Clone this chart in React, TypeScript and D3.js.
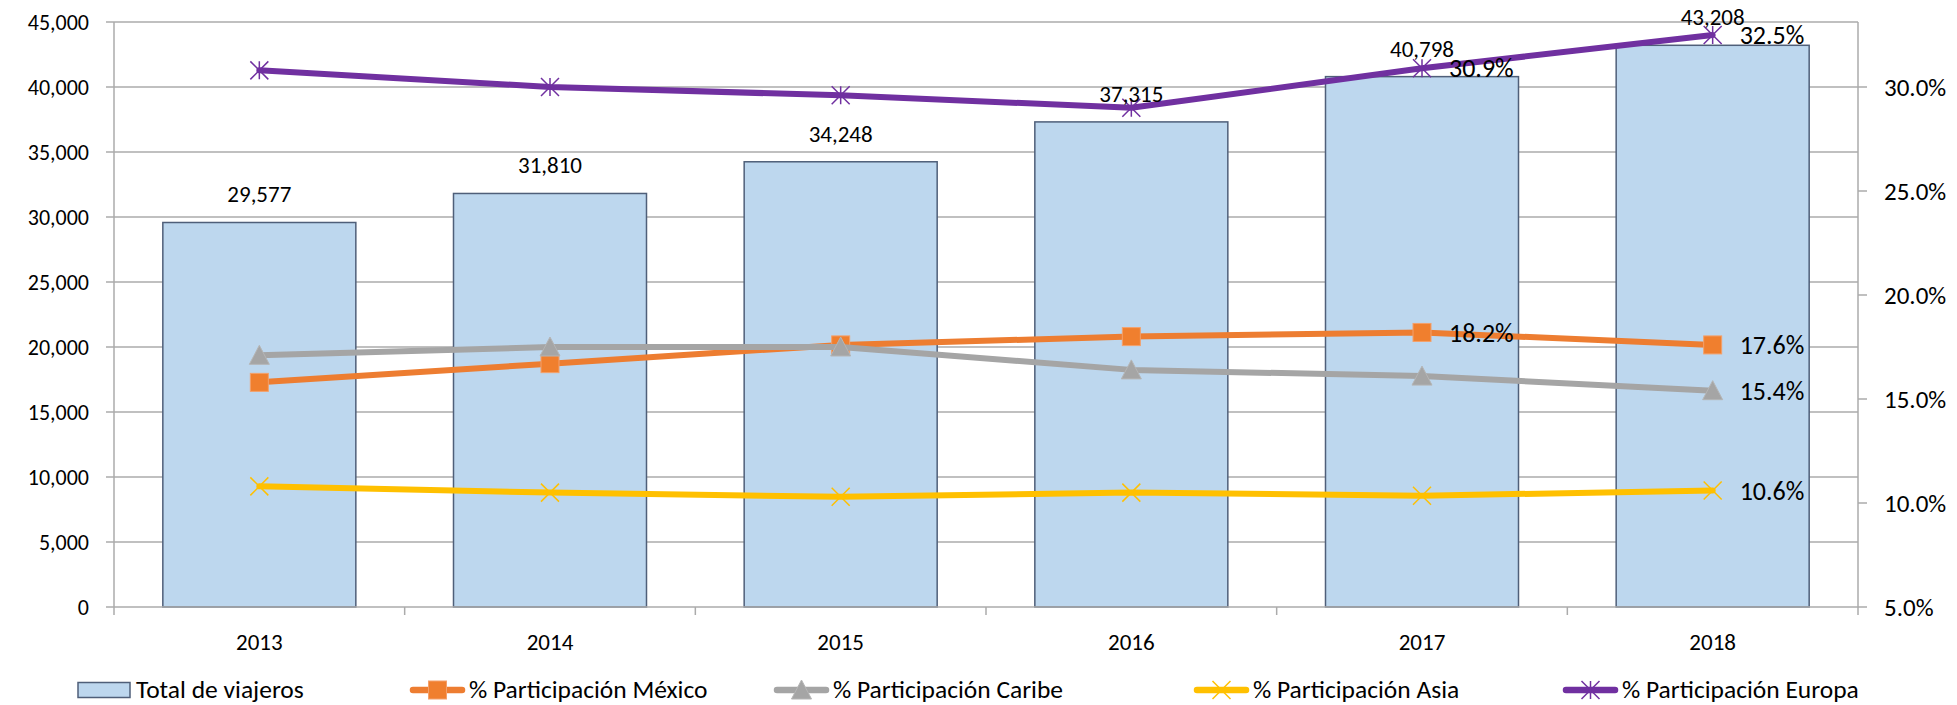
import { useEffect, useRef } from "react";
import * as d3 from "d3";

const years = ["2013", "2014", "2015", "2016", "2017", "2018"];
const totalViajeros = [29577, 31810, 34248, 37315, 40798, 43208];
const pctMexico = [15.8, 16.7, 17.6, 18.0, 18.2, 17.6];
const pctCaribe = [17.1, 17.5, 17.5, 16.4, 16.1, 15.4];
const pctAsia = [10.8, 10.5, 10.3, 10.5, 10.35, 10.6];
const pctEuropa = [30.8, 30.0, 29.6, 29.0, 30.9, 32.5];
const leftTicks = [0, 5000, 10000, 15000, 20000, 25000, 30000, 35000, 40000, 45000];
const rightTicks = [5, 10, 15, 20, 25, 30];

const series = [
  { name: "% Participación México", values: pctMexico, color: "#ED7D31", marker: "square", labelAt: [4, 5] },
  { name: "% Participación Caribe", values: pctCaribe, color: "#A5A5A5", marker: "triangle", labelAt: [5] },
  { name: "% Participación Asia", values: pctAsia, color: "#FFC000", marker: "x", labelAt: [5] },
  { name: "% Participación Europa", values: pctEuropa, color: "#7030A0", marker: "star", labelAt: [4, 5] },
];

const FONT = "Carlito, Calibri, Lato, sans-serif";
const W = 1957;
const H = 705;
const left = 114;
const right = 1858;
const top = 22;
const bottom = 607;

const drawMarker = (g, type, color, cx, cy) => {
  const s = 9;
  if (type === "square") {
    g.append("rect")
      .attr("x", cx - s).attr("y", cy - s)
      .attr("width", 2 * s).attr("height", 2 * s)
      .attr("fill", "#F07F2E").attr("stroke", "#F4A06A").attr("stroke-width", 1);
  } else if (type === "triangle") {
    g.append("path")
      .attr("d", `M${cx},${cy - s - 1}L${cx + s + 1},${cy + s}L${cx - s - 1},${cy + s}Z`)
      .attr("fill", color).attr("stroke", "#B5B5B5").attr("stroke-width", 1);
  } else if (type === "x") {
    g.append("path")
      .attr("d", `M${cx - s},${cy - s}L${cx + s},${cy + s}M${cx - s},${cy + s}L${cx + s},${cy - s}`)
      .attr("stroke", color).attr("stroke-width", 1.5);
  } else {
    g.append("path")
      .attr("d", `M${cx - s},${cy - s}L${cx + s},${cy + s}M${cx - s},${cy + s}L${cx + s},${cy - s}M${cx},${cy - s}L${cx},${cy + s}`)
      .attr("stroke", color).attr("stroke-width", 1.5);
  }
};

export default function App() {
  const svgRef = useRef(null);

  useEffect(() => {
    const svg = d3.select(svgRef.current);
    svg.selectAll("*").remove();

    const x = d3.scaleBand().domain(years).range([left, right]).padding(0);
    const yL = d3.scaleLinear().domain([0, 45000]).range([bottom, top]);
    const yR = d3.scaleLinear().domain([5, 33.125]).range([bottom, top]);
    const barW = x.bandwidth() * 0.664;
    const cx = (d) => x(d) + x.bandwidth() / 2;

    // gridlines
    svg.append("g")
      .selectAll("line")
      .data(leftTicks.slice(1))
      .enter()
      .append("line")
      .attr("x1", left).attr("x2", right)
      .attr("y1", (d) => yL(d)).attr("y2", (d) => yL(d))
      .attr("stroke", "#ABABAB").attr("stroke-width", 1.5);

    // bars
    svg.append("g")
      .selectAll("rect")
      .data(totalViajeros)
      .enter()
      .append("rect")
      .attr("x", (d, i) => cx(years[i]) - barW / 2)
      .attr("y", (d) => yL(d))
      .attr("width", barW)
      .attr("height", (d) => bottom - yL(d))
      .attr("fill", "#BDD7EE")
      .attr("stroke", "#4F5F79")
      .attr("stroke-width", 1.5);

    // axes lines
    const axisColor = "#ABABAB";
    svg.append("line").attr("x1", left).attr("x2", left).attr("y1", top).attr("y2", bottom + 8).attr("stroke", axisColor).attr("stroke-width", 1.5);
    svg.append("line").attr("x1", right).attr("x2", right).attr("y1", top).attr("y2", bottom + 8).attr("stroke", axisColor).attr("stroke-width", 1.5);
    svg.append("line").attr("x1", left).attr("x2", right).attr("y1", bottom).attr("y2", bottom).attr("stroke", axisColor).attr("stroke-width", 1.5);

    // x boundary ticks
    svg.append("g")
      .selectAll("line")
      .data(years.slice(1))
      .enter()
      .append("line")
      .attr("x1", (d) => x(d)).attr("x2", (d) => x(d))
      .attr("y1", bottom).attr("y2", bottom + 8)
      .attr("stroke", axisColor).attr("stroke-width", 1.5);

    // left ticks + labels
    const lt = svg.append("g");
    leftTicks.forEach((t) => {
      lt.append("line").attr("x1", left - 8).attr("x2", left).attr("y1", yL(t)).attr("y2", yL(t)).attr("stroke", axisColor).attr("stroke-width", 1.5);
      lt.append("text")
        .attr("x", 89).attr("y", yL(t)).attr("dy", "0.35em")
        .attr("text-anchor", "end")
        .attr("font-family", FONT).attr("font-size", 22).attr("fill", "#000")
        .text(d3.format(",")(t));
    });

    // right ticks + labels
    const rt = svg.append("g");
    rightTicks.forEach((t) => {
      rt.append("line").attr("x1", right).attr("x2", right + 9).attr("y1", yR(t)).attr("y2", yR(t)).attr("stroke", axisColor).attr("stroke-width", 1.5);
      rt.append("text")
        .attr("x", 1884).attr("y", yR(t)).attr("dy", "0.35em")
        .attr("font-family", FONT).attr("font-size", 25).attr("fill", "#000")
        .text(d3.format(".1f")(t) + "%");
    });

    // x labels
    svg.append("g")
      .selectAll("text")
      .data(years)
      .enter()
      .append("text")
      .attr("x", (d) => cx(d)).attr("y", 650)
      .attr("text-anchor", "middle")
      .attr("font-family", FONT).attr("font-size", 23)
      .text((d) => d);

    // lines
    const line = d3.line().x((d, i) => cx(years[i])).y((d) => yR(d));
    series.forEach((s) => {
      const g = svg.append("g");
      g.append("path")
        .datum(s.values)
        .attr("d", line)
        .attr("fill", "none")
        .attr("stroke", s.color)
        .attr("stroke-width", 6)
        .attr("stroke-linejoin", "round")
        .attr("stroke-linecap", "round");
      s.values.forEach((v, i) => drawMarker(g, s.marker, s.color, cx(years[i]), yR(v)));
    });

    // bar value labels
    svg.append("g")
      .selectAll("text")
      .data(totalViajeros)
      .enter()
      .append("text")
      .attr("x", (d, i) => cx(years[i]))
      .attr("y", (d) => yL(d) - 20)
      .attr("text-anchor", "middle")
      .attr("font-family", FONT).attr("font-size", 23)
      .text((d) => d3.format(",")(d));

    // percent labels
    series.forEach((s) => {
      s.labelAt.forEach((i) => {
        svg.append("text")
          .attr("x", cx(years[i]) + 27)
          .attr("y", yR(s.values[i]))
          .attr("dy", "0.35em")
          .attr("font-family", FONT).attr("font-size", 26)
          .text(d3.format(".1f")(s.values[i]) + "%");
      });
    });

    // legend
    const legendY = 690;
    const legendX = [78, 410, 774, 1194, 1563];
    const lg = svg.append("g");
    lg.append("rect")
      .attr("x", legendX[0]).attr("y", legendY - 7.5)
      .attr("width", 52).attr("height", 15)
      .attr("fill", "#BDD7EE").attr("stroke", "#4F5F79").attr("stroke-width", 1.5);
    lg.append("text")
      .attr("x", legendX[0] + 58).attr("y", legendY).attr("dy", "0.3em")
      .attr("font-family", FONT).attr("font-size", 25.5)
      .text("Total de viajeros");
    series.forEach((s, k) => {
      const x0 = legendX[k + 1];
      const g = lg.append("g");
      g.append("line")
        .attr("x1", x0 + 3).attr("x2", x0 + 52)
        .attr("y1", legendY).attr("y2", legendY)
        .attr("stroke", s.color).attr("stroke-width", 6.5)
        .attr("stroke-linecap", "round");
      drawMarker(g, s.marker, s.color, x0 + 27.5, legendY);
      g.append("text")
        .attr("x", x0 + 59).attr("y", legendY).attr("dy", "0.3em")
        .attr("font-family", FONT).attr("font-size", 25.5)
        .text(s.name);
    });
  }, []);

  return (
    <svg
      ref={svgRef}
      width={W}
      height={H}
      style={{ position: "absolute", left: 0, top: 0, background: "#fff" }}
    ></svg>
  );
}
